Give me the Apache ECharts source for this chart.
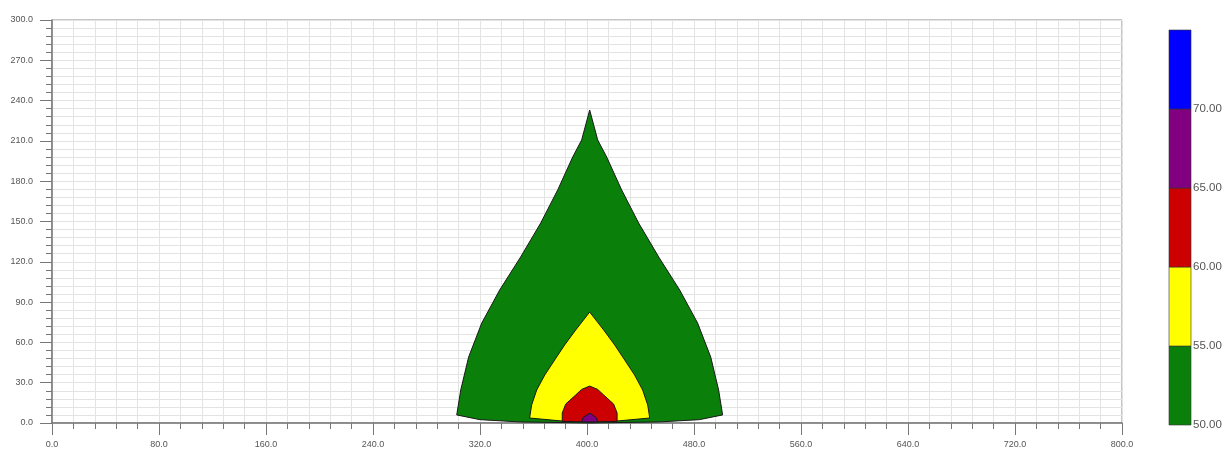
<!DOCTYPE html>
<html>
<head>
<meta charset="utf-8">
<script src="https://cdn.jsdelivr.net/npm/echarts@6/dist/echarts.min.js"></script>
<style>
  html, body { margin: 0; padding: 0; background: #fff; }
  #chart { width: 1228px; height: 451px; }
</style>
</head>
<body>
<div id="chart"></div>
<script>
// axis ranges / ticks
var xRange = [0, 800], xStep = 80;
var yRange = [0, 300], yStep = 30;

// colour bar levels and colours (bottom to top)
var barLevels = [50, 55, 60, 65, 70, 75];
var barColors = ['#0a800a', '#ffff00', '#cc0000', '#800080', '#0000ff'];

// contour outlines, [x, y] in data units
var greenEdge = [
  [402, 0], [350, 0.8], [320, 2.5], [302.6, 6], [305.6, 24.6], [311.5, 49.1],
  [321.3, 74.4], [334.7, 99], [350.4, 123.6], [365.4, 148.9], [378.1, 173.5],
  [389.3, 198], [396, 210.7], [402, 233], [408, 210.7], [414.7, 198],
  [425.9, 173.5], [438.6, 148.9], [453.6, 123.6], [469.3, 99], [482.7, 74.4],
  [492.5, 49.1], [498.4, 24.6], [501.4, 6], [484, 2.5], [454, 0.8]
];
var yellowEdge = [
  [402, 1], [380, 1.6], [357.1, 3.7], [358.6, 13.4], [362.4, 24.6], [368.4, 35.7],
  [375.8, 46.9], [383.3, 58.1], [391.5, 69.2], [402, 82.6], [412.5, 69.2],
  [420.7, 58.1], [428.2, 46.9], [435.6, 35.7], [441.6, 24.6], [445.4, 13.4],
  [446.9, 3.7], [424, 1.6]
];
var redEdge = [
  [402, 0.8], [381.5, 1.2], [381.5, 7.4], [384.1, 14.1], [391.5, 20.8],
  [396, 25], [402, 27.5], [408, 25], [412.5, 20.8], [419.9, 14.1],
  [422.5, 7.4], [422.5, 1.2]
];
var purpleEdge = [
  [396, 0.8], [397, 4], [402, 7.4], [407, 4], [408, 0.8]
];

var contours = [
  { pts: greenEdge, color: '#0a800a' },
  { pts: yellowEdge, color: '#ffff00' },
  { pts: redEdge, color: '#cc0000' },
  { pts: purpleEdge, color: '#800080' }
];

var labelFont = 'Liberation Sans';
var axisGray = '#777';
var gridGray = '#e3e3e3';

var chart = echarts.init(document.getElementById('chart'));

var option = {
  animation: false,
  backgroundColor: '#fff',
  grid: [
    { left: 52, top: 20, width: 1070, height: 403, show: true, borderColor: '#8a8a8a', borderWidth: 1 },
    { left: 1169, top: 30, width: 22, height: 395 }
  ],
  xAxis: [
    {
      type: 'value', gridIndex: 0, min: xRange[0], max: xRange[1], interval: xStep,
      axisLine: { lineStyle: { color: axisGray, width: 1.5 } },
      axisTick: { show: true, length: 12, lineStyle: { color: axisGray } },
      minorTick: { show: true, splitNumber: 5, length: 6, lineStyle: { color: axisGray } },
      splitLine: { show: true, lineStyle: { color: gridGray } },
      minorSplitLine: { show: true, lineStyle: { color: gridGray } },
      axisLabel: {
        margin: 17, fontSize: 9, color: '#555', fontFamily: labelFont,
        formatter: function (v) { return v.toFixed(1); }
      }
    },
    { type: 'value', gridIndex: 1, min: 0, max: 1, show: false }
  ],
  yAxis: [
    {
      type: 'value', gridIndex: 0, min: yRange[0], max: yRange[1], interval: yStep,
      axisLine: { show: true, lineStyle: { color: axisGray, width: 1.5 } },
      axisTick: { show: true, length: 12, lineStyle: { color: axisGray } },
      minorTick: { show: true, splitNumber: 5, length: 6, lineStyle: { color: axisGray } },
      splitLine: { show: true, lineStyle: { color: gridGray } },
      minorSplitLine: { show: true, lineStyle: { color: gridGray } },
      axisLabel: {
        margin: 19, fontSize: 9, color: '#555', fontFamily: labelFont,
        formatter: function (v) { return v.toFixed(1); }
      }
    },
    {
      type: 'value', gridIndex: 1, position: 'right',
      min: barLevels[0], max: barLevels[barLevels.length - 1], interval: 5,
      axisLine: { show: false }, axisTick: { show: false }, splitLine: { show: false },
      axisLabel: {
        margin: 2, fontSize: 11.5, color: '#555', fontFamily: labelFont,
        formatter: function (v) { return v === barLevels[barLevels.length - 1] ? '' : v.toFixed(2); }
      }
    }
  ],
  series: [
    {
      type: 'custom',
      xAxisIndex: 0, yAxisIndex: 0,
      silent: true,
      data: contours.map(function (c, i) { return [i, 0]; }),
      renderItem: function (params, api) {
        var c = contours[params.dataIndex];
        return {
          type: 'polygon',
          shape: { points: c.pts.map(function (p) { return api.coord(p); }) },
          style: { fill: c.color, stroke: '#1a1a1a', lineWidth: 1 }
        };
      }
    },
    {
      type: 'custom',
      xAxisIndex: 1, yAxisIndex: 1,
      silent: true,
      data: barColors.map(function (c, i) { return [i, barLevels[i]]; }),
      renderItem: function (params, api) {
        var i = params.dataIndex;
        var p0 = api.coord([0, barLevels[i]]);
        var p1 = api.coord([1, barLevels[i + 1]]);
        return {
          type: 'rect',
          shape: { x: p0[0], y: p1[1], width: p1[0] - p0[0], height: p0[1] - p1[1] },
          style: { fill: barColors[i], stroke: '#333', lineWidth: 0.6 }
        };
      }
    }
  ]
};

chart.setOption(option);
</script>
</body>
</html>
